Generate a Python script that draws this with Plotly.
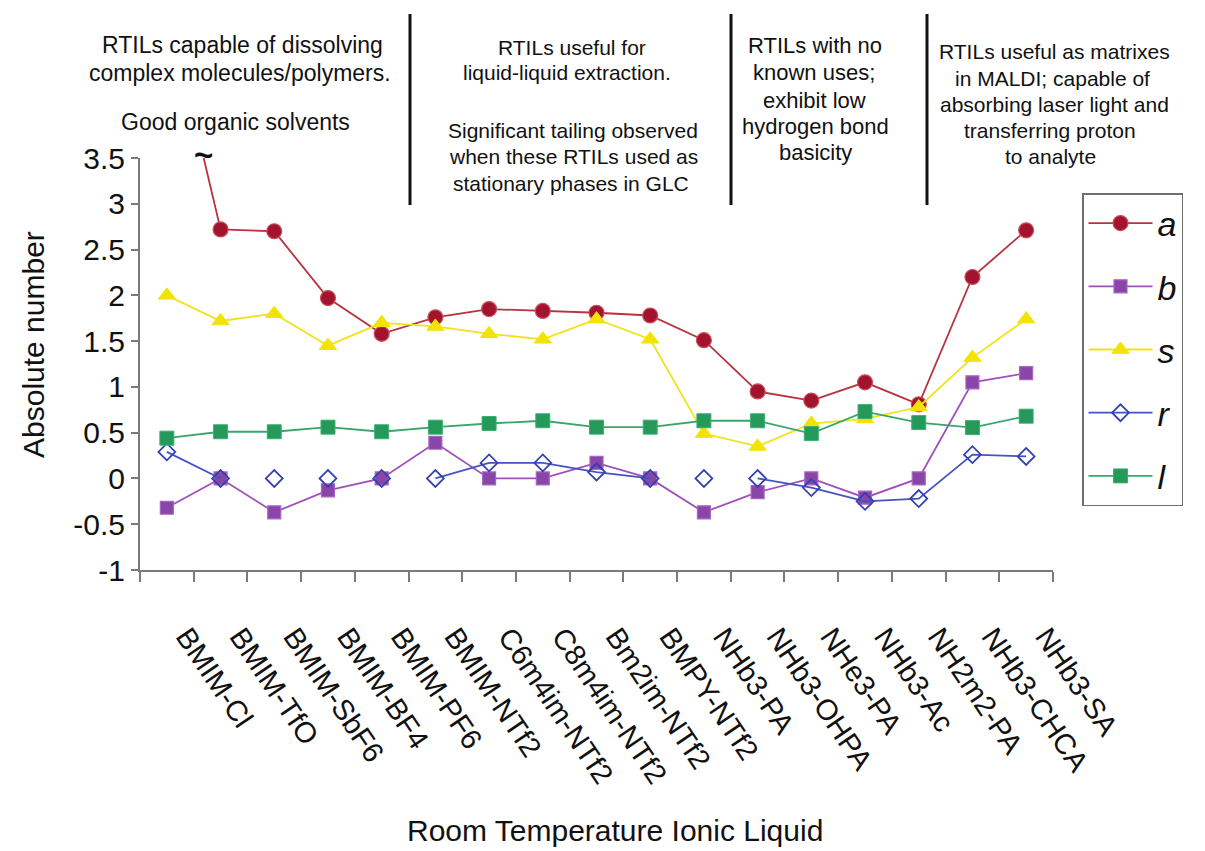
import plotly.graph_objects as go

# Room temperature ionic liquids and their solvation parameters
categories = [
    "BMIM-Cl", "BMIM-TfO", "BMIM-SbF6", "BMIM-BF4", "BMIM-PF6", "BMIM-NTf2",
    "C6m4im-NTf2", "C8m4im-NTf2", "Bm2im-NTf2", "BMPY-NTf2", "NHb3-PA",
    "NHb3-OHPA", "NHe3-PA", "NHb3-Ac", "NH2m2-PA", "NHb3-CHCA", "NHb3-SA",
]

a_vals = [5.2, 2.72, 2.70, 1.97, 1.58, 1.76, 1.85, 1.83, 1.81, 1.78, 1.51,
          0.95, 0.85, 1.05, 0.81, 2.20, 2.71]
b_vals = [-0.32, 0.0, -0.37, -0.13, 0.0, 0.39, 0.0, 0.0, 0.17, 0.0, -0.37,
          -0.15, 0.0, -0.21, 0.0, 1.05, 1.15]
s_vals = [2.0, 1.72, 1.80, 1.45, 1.70, 1.66, 1.58, 1.52, 1.74, 1.52, 0.49,
          0.35, 0.60, 0.65, 0.78, 1.32, 1.74]
r_vals = [0.29, 0.0, 0.0, 0.0, 0.0, 0.0, 0.17, 0.17, 0.07, 0.0, 0.0,
          0.0, -0.10, -0.25, -0.22, 0.26, 0.24]
l_vals = [0.44, 0.51, 0.51, 0.56, 0.51, 0.56, 0.60, 0.63, 0.56, 0.56, 0.63,
          0.63, 0.49, 0.73, 0.61, 0.555, 0.68]

# r points drawn as markers only (not joined to their neighbours)
r_unlinked = ["BMIM-SbF6", "BMIM-BF4", "BMIM-PF6", "NHb3-PA"]

y_ticks = [-1, -0.5, 0, 0.5, 1, 1.5, 2, 2.5, 3, 3.5]
y_tick_text = ["-1", "-0.5", "0", "0.5", "1", "1.5", "2", "2.5", "3", "3.5"]

FONT = "Arial, Liberation Sans, sans-serif"

# plot area in pixels
L, R, T, B = 140, 1053, 158, 570
W, H = 1205, 851


def px(x):
    return (x - L) / (R - L)


def py(y):
    return (B - y) / (B - T)


fig = go.Figure()

fig.add_trace(go.Scatter(
    x=categories, y=a_vals, name="<i>a</i>", legendgroup="a",
    mode="lines+markers",
    line=dict(color="#B8323F", width=1.8),
    marker=dict(symbol="circle", size=15, color="#A3132E",
                line=dict(color="#C8505C", width=1.2)),
))
fig.add_trace(go.Scatter(
    x=categories, y=b_vals, name="<i>b</i>", legendgroup="b",
    mode="lines+markers",
    line=dict(color="#A04FBC", width=1.8),
    marker=dict(symbol="square", size=13, color="#8A45A8",
                line=dict(color="#A866C4", width=1.2)),
))
fig.add_trace(go.Scatter(
    x=categories, y=s_vals, name="<i>s</i>", legendgroup="s",
    mode="lines+markers",
    line=dict(color="#F0E31A", width=1.8),
    marker=dict(symbol="triangle-up", size=15, color="#F2E400",
                line=dict(color="#F2E400", width=1)),
))

r_linked = [None if c in r_unlinked else v for c, v in zip(categories, r_vals)]
fig.add_trace(go.Scatter(
    x=categories, y=r_linked, name="<i>r</i>", legendgroup="r",
    mode="lines+markers", connectgaps=False,
    line=dict(color="#4453C2", width=1.8),
    marker=dict(symbol="diamond-open", size=13, color="#3340B0",
                line=dict(width=1.8)),
))
fig.add_trace(go.Scatter(
    x=[c for c in categories if c in r_unlinked],
    y=[v for c, v in zip(categories, r_vals) if c in r_unlinked],
    legendgroup="r", showlegend=False, mode="markers",
    marker=dict(symbol="diamond-open", size=13, color="#3340B0",
                line=dict(width=1.8)),
))
fig.add_trace(go.Scatter(
    x=categories, y=l_vals, name="<i>l</i>", legendgroup="l",
    mode="lines+markers",
    line=dict(color="#3AA56A", width=1.8),
    marker=dict(symbol="square", size=14, color="#24995A",
                line=dict(color="#3DB070", width=1)),
))

# text blocks above the plot, separated by vertical rules
notes = [
    ("RTILs capable of dissolving", 242, 45, 23),
    ("complex molecules/polymers.", 240, 73, 23),
    ("Good organic solvents", 235, 122, 23),
    ("RTILs useful for", 572, 47, 21),
    ("liquid-liquid extraction.", 567, 72, 21),
    ("Significant tailing observed", 573, 130, 21),
    ("when these RTILs used as", 573, 157, 21),
    ("stationary phases in GLC", 571, 183, 21),
    ("RTILs with no", 815, 45, 22),
    ("known uses;", 814, 72, 22),
    ("exhibit low", 814, 100, 22),
    ("hydrogen bond", 815, 127, 22),
    ("basicity", 815, 153, 22),
    ("RTILs useful as matrixes", 1054, 52, 21),
    ("in MALDI; capable of", 1052, 78, 21),
    ("absorbing laser light and", 1054, 104, 21),
    ("transferring proton", 1050, 130, 21),
    ("to analyte", 1050, 157, 21),
]
annotations = []
for text, x, y, size in notes:
    annotations.append(dict(
        text=text, x=px(x), y=py(y), xref="paper", yref="paper",
        xanchor="center", yanchor="middle", showarrow=False,
        font=dict(family=FONT, size=size, color="#111111"),
    ))

# axis break mark on the off-scale first value of a
annotations.append(dict(
    text="<b>~</b>", x=px(203), y=py(154), xref="paper", yref="paper",
    xanchor="center", yanchor="middle", showarrow=False,
    font=dict(family=FONT, size=33, color="#111111"),
))
annotations.append(dict(
    text="Absolute number", x=px(33), y=py(345), xref="paper", yref="paper",
    xanchor="center", yanchor="middle", textangle=-90, showarrow=False,
    font=dict(family=FONT, size=30, color="#111111"),
))
annotations.append(dict(
    text="Room Temperature Ionic Liquid", x=px(615), y=py(830),
    xref="paper", yref="paper", xanchor="center", yanchor="middle",
    showarrow=False, font=dict(family=FONT, size=30, color="#111111"),
))

shapes = []
for x in (410, 731, 927):
    shapes.append(dict(
        type="line", xref="paper", yref="paper",
        x0=px(x), x1=px(x), y0=py(14), y1=py(205),
        line=dict(color="#111111", width=3),
    ))

fig.update_layout(
    width=W, height=H,
    margin=dict(l=L, r=W - R, t=T, b=H - B, autoexpand=False),
    paper_bgcolor="white", plot_bgcolor="white",
    font=dict(family=FONT, color="#111111"),
    showlegend=True,
    legend=dict(
        x=px(1082), y=py(193), xanchor="left", yanchor="top",
        bgcolor="white", bordercolor="#6e6e6e", borderwidth=1.5,
        font=dict(family=FONT, size=34, color="#111111"),
        tracegroupgap=16, itemwidth=64,
    ),
    annotations=annotations,
    shapes=shapes,
)

fig.update_xaxes(
    type="category", categoryorder="array", categoryarray=categories,
    range=[-0.5, len(categories) - 0.5], autorange=False,
    tickson="boundaries", ticks="outside", ticklen=10, tickwidth=1.5,
    tickcolor="#7a7a7a", showline=True, linecolor="#7a7a7a", linewidth=2,
    showgrid=False, zeroline=False, tickangle=56,
    tickfont=dict(family=FONT, size=29, color="#111111"),
    ticklabelstandoff=36, ticklabelshift=20,
)
fig.update_yaxes(
    range=[-1, 3.5], tickvals=y_ticks, ticktext=y_tick_text,
    ticks="outside", ticklen=7, tickwidth=1.5, tickcolor="#7a7a7a",
    showline=True, linecolor="#7a7a7a", linewidth=2,
    showgrid=False, zeroline=False,
    tickfont=dict(family=FONT, size=30, color="#111111"),
)

fig.write_html("out.html")
